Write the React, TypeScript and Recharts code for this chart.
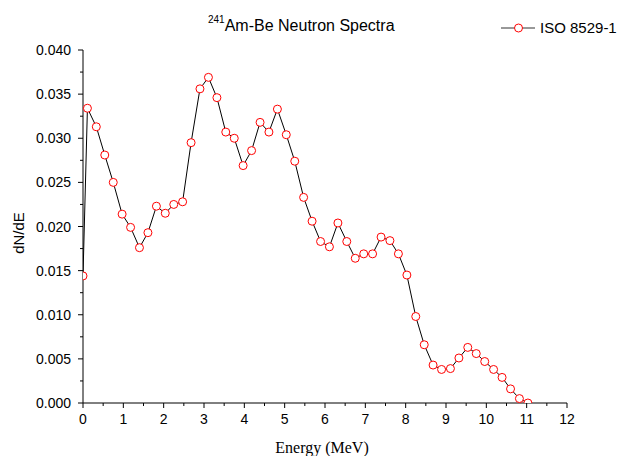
import React from "react";
import { LineChart, Line, XAxis, YAxis } from "recharts";

document.body.style.margin = "0";

// ISO 8529-1 241Am-Be spectrum
const energy = [
  0, 0.11, 0.33, 0.54, 0.75, 0.97, 1.18, 1.4, 1.61, 1.82, 2.04, 2.25, 2.47,
  2.68, 2.9, 3.11, 3.32, 3.54, 3.75, 3.97, 4.18, 4.39, 4.61, 4.82, 5.04, 5.25,
  5.47, 5.68, 5.89, 6.11, 6.32, 6.54, 6.75, 6.96, 7.18, 7.39, 7.61, 7.82, 8.03,
  8.25, 8.46, 8.68, 8.89, 9.11, 9.32, 9.54, 9.75, 9.96, 10.18, 10.39, 10.6,
  10.82, 11.03,
];
const dNdE = [
  0.0144, 0.0334, 0.0313, 0.0281, 0.025, 0.0214, 0.0199, 0.0176, 0.0193,
  0.0223, 0.0215, 0.0225, 0.0228, 0.0295, 0.0356, 0.0369, 0.0346, 0.0307,
  0.03, 0.0269, 0.0286, 0.0318, 0.0307, 0.0333, 0.0304, 0.0274, 0.0233,
  0.0206, 0.0183, 0.0177, 0.0204, 0.0183, 0.0164, 0.0169, 0.0169, 0.0188,
  0.0184, 0.0169, 0.0145, 0.0098, 0.0066, 0.0043, 0.0038, 0.0039, 0.0051,
  0.0063, 0.0056, 0.0047, 0.0038, 0.0029, 0.0016, 0.0005, 0,
];
const xTicks = [
  0, 0.5, 1, 1.5, 2, 2.5, 3, 3.5, 4, 4.5, 5, 5.5, 6, 6.5, 7, 7.5, 8, 8.5, 9,
  9.5, 10, 10.5, 11, 11.5, 12,
];
const yTicks = [
  0, 0.0025, 0.005, 0.0075, 0.01, 0.0125, 0.015, 0.0175, 0.02, 0.0225, 0.025,
  0.0275, 0.03, 0.0325, 0.035, 0.0375, 0.04,
];

const data = energy.map((e, i) => ({ e, v: dNdE[i] }));

const SANS = "'Liberation Sans', Arial, sans-serif";
const SERIF = "'Liberation Serif', 'Times New Roman', serif";

const XTick = ({ x, y, payload }: any) => {
  const major = Number.isInteger(payload.value);
  return (
    <g>
      <line x1={x} x2={x} y1={y} y2={y + (major ? 5 : 3)} stroke="#000" />
      {major && (
        <text x={x} y={y + 21} textAnchor="middle" fontSize={14} fontFamily={SANS} fill="#000">
          {payload.value}
        </text>
      )}
    </g>
  );
};

const YTick = ({ x, y, payload }: any) => {
  const v = payload.value * 200;
  const major = Math.abs(v - Math.round(v)) < 1e-6;
  return (
    <g>
      <line x1={x} x2={x - (major ? 5 : 3)} y1={y} y2={y} stroke="#000" />
      {major && (
        <text x={x - 12} y={y + 5} textAnchor="end" fontSize={14} fontFamily={SANS} fill="#000">
          {payload.value.toFixed(3)}
        </text>
      )}
    </g>
  );
};

export default function App() {
  return (
    <div style={{ position: "relative", width: 619, height: 456, background: "#fff", overflow: "hidden" }}>
      <LineChart
        width={619}
        height={456}
        data={data}
        margin={{ top: 50, right: 52, left: 0, bottom: 0 }}
      >
        <XAxis
          dataKey="e"
          type="number"
          domain={[0, 12]}
          ticks={xTicks}
          interval={0}
          allowDataOverflow
          height={53}
          tickSize={0}
          tickMargin={0}
          tickLine={false}
          axisLine={{ stroke: "#000" }}
          tick={<XTick />}
        />
        <YAxis
          type="number"
          domain={[0, 0.04]}
          ticks={yTicks}
          interval={0}
          allowDataOverflow
          width={83}
          tickSize={0}
          tickMargin={0}
          tickLine={false}
          axisLine={{ stroke: "#000" }}
          tick={<YTick />}
        />
        <Line
          type="linear"
          dataKey="v"
          stroke="#000"
          strokeWidth={1}
          dot={{ r: 4, stroke: "#ff0000", strokeWidth: 1, fill: "#fff" }}
          isAnimationActive={false}
        />
      </LineChart>
      <svg
        width={619}
        height={456}
        style={{ position: "absolute", left: 0, top: 0, pointerEvents: "none" }}
      >
        <text x={208} y={31} fontFamily={SANS} fill="#000">
          <tspan fontSize={10} dy={-8}>241</tspan>
          <tspan fontSize={16} dy={8}>Am-Be Neutron Spectra</tspan>
        </text>
        <line x1={501} x2={535} y1={28} y2={28} stroke="#333" />
        <circle cx={518.5} cy={28} r={4} stroke="#ff0000" strokeWidth={1} fill="#fff" />
        <text x={540} y={33} fontSize={15} fontFamily={SANS} fill="#000">
          ISO 8529-1
        </text>
        <text
          transform="translate(24,233) rotate(-90)"
          textAnchor="middle"
          fontSize={15}
          fontFamily={SANS}
          fill="#000"
        >
          dN/dE
        </text>
        <text x={322} y={453} textAnchor="middle" fontSize={16} fontFamily={SERIF} fill="#000">
          Energy (MeV)
        </text>
      </svg>
    </div>
  );
}
